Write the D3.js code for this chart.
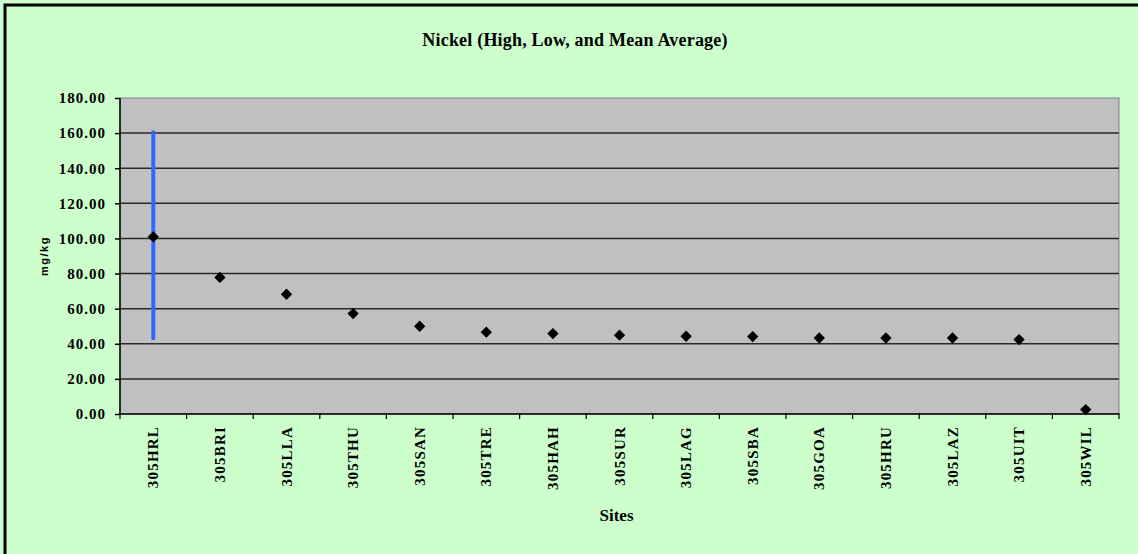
<!DOCTYPE html>
<html><head><meta charset="utf-8">
<script src="https://cdn.jsdelivr.net/npm/d3@7"></script>
<style>
html,body{margin:0;padding:0;background:#CCFFCC;overflow:hidden;}
svg{display:block;}
</style></head>
<body>
<script>
const sites = ["305HRL","305BRI","305LLA","305THU","305SAN","305TRE","305HAH","305SUR","305LAG","305SBA","305GOA","305HRU","305LAZ","305UIT","305WIL"];
const meanValues = [100.9,77.8,68.2,57.2,50.0,46.6,45.8,44.9,44.3,44.1,43.3,43.3,43.3,42.4,2.5];
const highValues = [160.5,77.8,68.2,57.2,50.0,46.6,45.8,44.9,44.3,44.1,43.3,43.3,43.3,42.4,2.5];
const lowValues  = [43.2,77.8,68.2,57.2,50.0,46.6,45.8,44.9,44.3,44.1,43.3,43.3,43.3,42.4,2.5];
const yTicks = [0,20,40,60,80,100,120,140,160,180];
const title = "Nickel (High, Low, and Mean Average)";
const xTitle = "Sites";
const yTitle = "mg/kg";

const W = 1138, H = 554;
const plot = {left:120, right:1119, top:98, bottom:414};
const SERIF = "'Liberation Serif','Times New Roman',serif";

const svg = d3.select("body").append("svg").attr("width",W).attr("height",H);
svg.append("rect").attr("x",0).attr("y",0).attr("width",W).attr("height",H).attr("fill","#CCFFCC");
svg.append("rect").attr("x",5).attr("y",5).attr("width",W+10).attr("height",H+10)
  .attr("fill","none").attr("stroke","#000").attr("stroke-width",3);

const x = d3.scaleBand().domain(sites).range([plot.left, plot.right]).padding(0);
const y = d3.scaleLinear().domain([0,180]).range([plot.bottom, plot.top]);

svg.append("rect").attr("x",plot.left).attr("y",plot.top)
  .attr("width",plot.right-plot.left).attr("height",plot.bottom-plot.top)
  .attr("fill","#C0C0C0").attr("stroke","#808080").attr("stroke-width",1);

// gridlines
svg.append("g").selectAll("line").data(yTicks.filter(d=>d>0 && d<180)).join("line")
  .attr("x1",plot.left).attr("x2",plot.right)
  .attr("y1",d=>y(d)).attr("y2",d=>y(d))
  .attr("stroke","#2a2a2a").attr("stroke-width",1.5);

// y axis
const yAxis = d3.axisLeft(y).tickValues(yTicks).tickSize(5).tickPadding(9).tickFormat(d3.format(".2f"));
const gy = svg.append("g").attr("transform",`translate(${plot.left},0)`).call(yAxis);
gy.attr("font-family",null).attr("font-size",null);
gy.select(".domain").attr("stroke","#000").attr("stroke-width",1.5).attr("d",`M0,${plot.top}V${plot.bottom}`);
gy.selectAll(".tick line").attr("stroke","#000").attr("stroke-width",1.5);
gy.selectAll(".tick text").style("font-family",SERIF).style("font-weight","bold")
  .style("font-size","15px").style("letter-spacing","1px").attr("fill","#000");

// x axis
const gx = svg.append("g").attr("transform",`translate(0,${plot.bottom})`);
gx.append("line").attr("x1",plot.left).attr("x2",plot.right).attr("y1",0).attr("y2",0)
  .attr("stroke","#000").attr("stroke-width",1.5);
const bounds = sites.map(s=>x(s)).concat([x(sites[sites.length-1])+x.bandwidth()]);
gx.selectAll("line.tk").data(bounds).join("line").attr("class","tk")
  .attr("x1",d=>d).attr("x2",d=>d).attr("y1",-1).attr("y2",5)
  .attr("stroke","#000").attr("stroke-width",1.2);
gx.selectAll("text").data(sites).join("text")
  .attr("transform",d=>`translate(${x(d)+x.bandwidth()/2+5},12) rotate(-90)`)
  .attr("text-anchor","end")
  .style("font-family",SERIF).style("font-weight","bold")
  .style("font-size","15px").style("letter-spacing","1.2px")
  .text(d=>d);

// high-low line
svg.append("g").selectAll("line").data(sites.map((s,i)=>({s,hi:highValues[i],lo:lowValues[i]})).filter(d=>d.hi>d.lo)).join("line")
  .attr("x1",d=>x(d.s)+x.bandwidth()/2).attr("x2",d=>x(d.s)+x.bandwidth()/2)
  .attr("y1",d=>y(d.hi)).attr("y2",d=>y(d.lo))
  .attr("stroke","#3366FF").attr("stroke-width",4).attr("stroke-linecap","round");

// mean markers
svg.append("g").selectAll("path").data(sites.map((s,i)=>({s,v:meanValues[i]}))).join("path")
  .attr("d",d3.symbol(d3.symbolSquare,64))
  .attr("transform",d=>`translate(${x(d.s)+x.bandwidth()/2},${y(d.v)}) rotate(45)`)
  .attr("fill","#000");

// titles
svg.append("text").attr("x",575).attr("y",46).attr("text-anchor","middle")
  .style("font-family",SERIF).style("font-weight","bold")
  .style("font-size","18px").style("letter-spacing","0.2px").text(title);
svg.append("text").attr("x",(plot.left+plot.right)/2-3).attr("y",521).attr("text-anchor","middle")
  .style("font-family",SERIF).style("font-weight","bold")
  .style("font-size","17px").text(xTitle);
svg.append("text").attr("transform",`translate(48,256) rotate(-90)`).attr("text-anchor","middle")
  .style("font-family","'Liberation Sans',Arial,sans-serif").style("font-weight","bold")
  .style("font-size","11px").style("letter-spacing","1.5px").text(yTitle);
</script>
</body></html>
